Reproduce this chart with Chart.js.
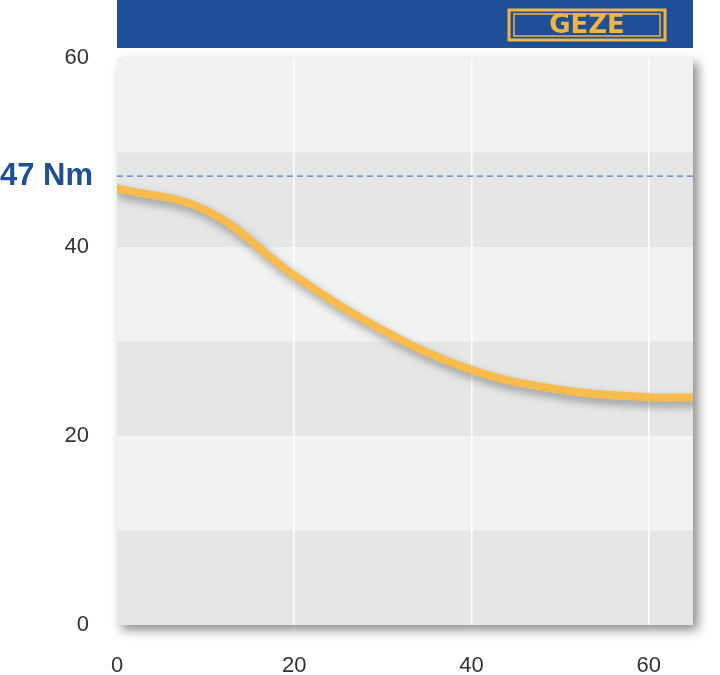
<!DOCTYPE html>
<html><head><script src="https://cdn.jsdelivr.net/npm/chart.js@4"></script>
<style>body{margin:0;background:#fff}canvas{display:block}</style></head>
<body><div style="width:720px;height:675px"><canvas id="c"></canvas></div>
<script>
const xValues=[0,10,20,30,40,50,60,65];
const torque=[46.2,43.9,37,31.2,27,24.9,24.1,24.1];
const xTicks=[0,20,40,60];
const yTicks=[0,20,40,60];
const limitValue=47.5;
const limitLabel='47 Nm';
const deco={id:'deco',
beforeDraw(ch){const {ctx,chartArea:a,scales:{x,y}}=ch;ctx.save();
 ctx.shadowColor='rgba(0,0,0,0.45)';ctx.shadowBlur=10;ctx.shadowOffsetX=5;ctx.shadowOffsetY=5;
 ctx.fillStyle='#f1f2f2';ctx.fillRect(a.left,a.top,a.right-a.left,a.bottom-a.top);ctx.restore();
 ctx.fillStyle='#e5e6e6';[0,20,40].forEach(v=>{const t=y.getPixelForValue(v+10),b=y.getPixelForValue(v);ctx.fillRect(a.left,t,a.right-a.left,b-t);});
 ctx.fillStyle='#1f4f96';ctx.fillRect(a.left,0,a.right-a.left,48);
 ctx.strokeStyle='#f2b544';ctx.lineWidth=3;ctx.strokeRect(509,10,156,30);ctx.lineWidth=1.5;ctx.strokeRect(514,14,146,22);
 ctx.fillStyle='#f2b544';ctx.font='bold 26px "DejaVu Sans"';ctx.textAlign='center';ctx.textBaseline='middle';ctx.fillText('GEZE',587,26);
},
afterDatasetsDraw(ch){const {ctx,chartArea:a,scales:{y}}=ch;const py=y.getPixelForValue(limitValue);
 ctx.save();ctx.strokeStyle='#5a78b8';ctx.lineWidth=1.2;ctx.setLineDash([6,4]);ctx.beginPath();ctx.moveTo(a.left,py);ctx.lineTo(a.right,py);ctx.stroke();
 ctx.setLineDash([]);ctx.fillStyle='#1f4f96';ctx.font='bold 31px "Liberation Sans"';ctx.textAlign='left';ctx.textBaseline='middle';ctx.fillText(limitLabel,0,py);ctx.restore();}
};
new Chart(document.getElementById('c'),{type:'line',
data:{labels:xValues,datasets:[{data:xValues.map((v,i)=>({x:v,y:torque[i]})),borderColor:'#f7bb4e',borderWidth:8,pointRadius:0,tension:0.4,borderCapStyle:'round'}]},
options:{responsive:true,maintainAspectRatio:false,animation:false,
layout:{padding:{left:0,right:27,top:58,bottom:0}},
plugins:{legend:{display:false},tooltip:{enabled:false}},
scales:{
x:{type:'linear',min:0,max:65,afterBuildTicks(s){s.ticks=xTicks.map(v=>({value:v}));},afterFit(s){s.height=50;},
 grid:{color:c=>c.tick&&c.tick.value>0?'#ffffff':'rgba(0,0,0,0)',lineWidth:1.5,drawTicks:false},border:{display:false},
 ticks:{color:'#333',font:{size:22,family:'Liberation Sans'},padding:28}},
y:{min:0,max:60,afterBuildTicks(s){s.ticks=yTicks.map(v=>({value:v}));},afterFit(s){s.width=117;},
 grid:{display:false},border:{display:false},ticks:{color:'#333',font:{size:22,family:'Liberation Sans'},padding:20}}}},
plugins:[deco,{id:'sh',beforeDatasetDraw(ch){const c=ch.ctx;c.save();c.shadowColor='rgba(0,0,0,0.35)';c.shadowBlur=8;c.shadowOffsetX=3;c.shadowOffsetY=5;},afterDatasetDraw(ch){ch.ctx.restore();}}]
});
</script></body></html>
